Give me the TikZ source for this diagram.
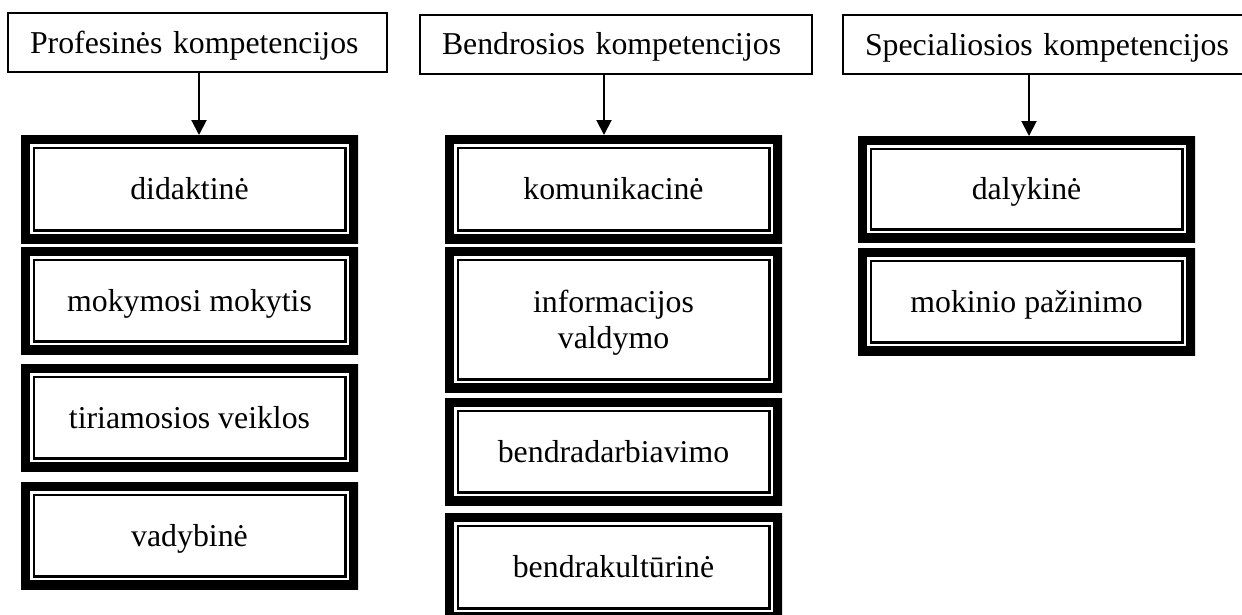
\documentclass[tikz,border=0pt]{standalone}
\usepackage{fontspec}
\setmainfont{Liberation Serif}
\usetikzlibrary{arrows.meta}
\begin{document}
\begin{tikzpicture}[x=1pt,y=1pt,
  hdr/.style={draw, line width=2pt, anchor=north west, inner sep=0pt, outer sep=0pt,
    minimum height=59pt, text height=25pt, text depth=4pt, align=left,
    font=\fontsize{31.8}{36}\selectfont},
  comp/.style={rectangle, inner sep=0pt, outer sep=0pt, anchor=north west, align=center,
    minimum width=337pt, text height=25pt, text depth=4pt, font=\fontsize{31.8}{36}\selectfont,
    path picture={
      \draw[line width=18pt] (path picture bounding box.south west) rectangle (path picture bounding box.north east);
      \draw[line width=2.5pt] ([shift={(12.75pt,12.75pt)}]path picture bounding box.south west) rectangle ([shift={(-12.75pt,-12.75pt)}]path picture bounding box.north east);
    }},
  arr/.style={line width=2pt, -{Triangle[width=15pt,length=15pt]}}
]
\useasboundingbox (0,0) rectangle (1242,-614);
% headers
\node[hdr, text width=379pt] (h1) at (8,-13) {\hspace*{22pt}Profesinės kompetencijos};
\node[hdr, text width=392pt] (h2) at (420,-14.5) {\hspace*{22pt}Bendrosios kompetencijos};
\node[hdr, text width=420pt] (h3) at (843,-15) {\hspace*{22pt}Specialiosios kompetencijos};
% column 1
\node[comp, minimum height=108pt] (p1) at (21,-135) {didaktinė};
\node[comp, minimum height=107pt] (p2) at (21,-247) {mokymosi mokytis};
\node[comp, minimum height=107pt] (p3) at (21,-364) {tiriamosios veiklos};
\node[comp, minimum height=107pt] (p4) at (21,-482) {vadybinė};
% column 2
\node[comp, minimum height=108pt] (b1) at (445,-135) {komunikacinė};
\node[comp, minimum height=145pt, text height=61pt] (b2) at (445,-247) {informacijos\\valdymo};
\node[comp, minimum height=107pt] (b3) at (445,-398) {bendradarbiavimo};
\node[comp, minimum height=108pt] (b4) at (445,-513) {bendrakultūrinė};
% column 3
\node[comp, minimum height=106pt] (s1) at (858,-136) {dalykinė};
\node[comp, minimum height=107pt] (s2) at (858,-248) {mokinio pažinimo};
% arrows
\coordinate (a1) at (199,0);
\coordinate (a2) at (604,0);
\coordinate (a3) at (1029,0);
\draw[arr] (h1.south -| a1) -- (p1.north -| a1);
\draw[arr] (h2.south -| a2) -- (b1.north -| a2);
\draw[arr] (h3.south -| a3) -- (s1.north -| a3);
\end{tikzpicture}
\end{document}
